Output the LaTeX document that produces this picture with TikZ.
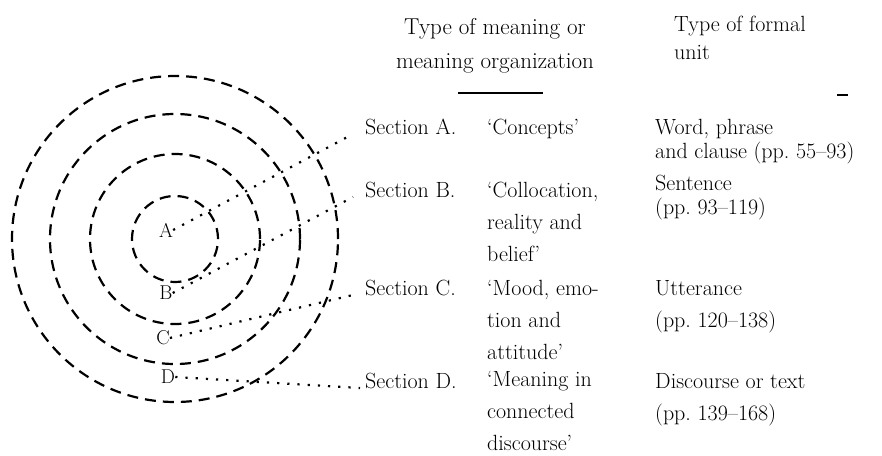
\documentclass[tikz,border=0pt]{standalone}
\usepackage{tikz}
\usetikzlibrary{positioning}

\begin{document}
\begin{tikzpicture}[
  x=1pt, y=-1pt,
  ring/.style={draw, line width=2.2pt, dash pattern=on 11pt off 7pt},
  lead/.style={line width=2.2pt, dash pattern=on 2.2pt off 8pt},
  lbl/.style={inner sep=0pt, font=\fontsize{20}{24}\selectfont},
  txt/.style={inner sep=0pt, anchor=base west, align=left, font=\fontsize{22}{32}\selectfont},
  tight/.style={txt, font=\fontsize{22}{24}\selectfont}
]
\useasboundingbox (0,0) rectangle (882,455);

\coordinate (ctr) at (175,239);
\foreach \r in {163,125,85,43}
  \draw[ring] (ctr) circle[radius=\r pt];

\node[lbl] (lblA) at (166,230) {A};
\node[lbl] (lblB) at (166,293) {B};
\node[lbl] (lblC) at (163,338) {C};
\node[lbl] (lblD) at (168,377) {D};

% multi-line nodes sit on the baseline of their last line
\node[txt, anchor=base, align=center, font=\fontsize{23}{34}\selectfont] (headM) at (495,68) {Type of meaning or\\meaning organization};
\node[txt, font=\fontsize{22}{28}\selectfont] (headR) at (674,59) {Type of formal\\unit};
\draw[line width=2.2pt] (458,93) -- (543,93);
\draw[line width=2.2pt] (837,95) -- (848,95);

\node[txt] (secA) at (365,134) {Section A.};
\node[txt] (secB) at (365,197) {Section B.};
\node[txt] (secC) at (365,295) {Section C.};
\node[txt] (secD) at (365,388) {Section D.};

\node[txt] (mA) at (487,134) {`Concepts'};
\node[txt] (mB) at (487,261) {`Collocation,\\reality and\\belief'};
\node[txt] (mC) at (487,359) {`Mood, emo-\\tion and\\attitude'};
\node[txt] (mD) at (487,450) {`Meaning in\\connected\\discourse'};

\node[tight] (rA) at (655,158) {Word, phrase\\and clause (pp.\ 55--93)};
\node[tight] (rB) at (655,214) {Sentence\\(pp.\ 93--119)};
\node[txt] (rC) at (655,327) {Utterance\\(pp.\ 120--138)};
\node[txt] (rD) at (655,420) {Discourse or text\\(pp.\ 139--168)};

\draw[lead] (lblA.east) -- ([xshift=-12pt]secA.base west);
\draw[lead] (lblB.east) -- ([xshift=-12pt]secB.base west);
\draw[lead] (lblC.east) -- ([xshift=-12pt]secC.base west);
\draw[lead] (lblD.east) -- ([xshift=-5pt]secD.base west);
\end{tikzpicture}
\end{document}
